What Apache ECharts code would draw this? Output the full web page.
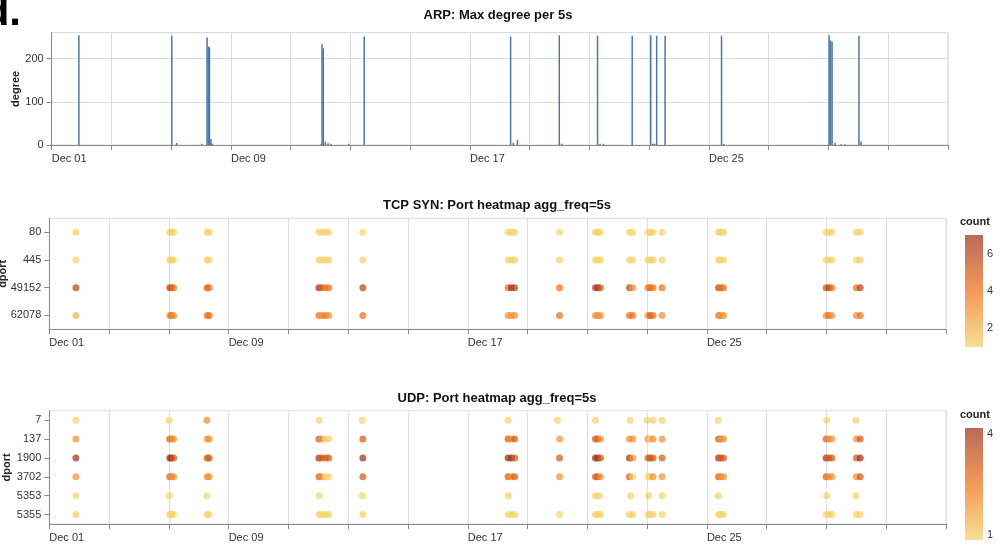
<!DOCTYPE html>
<html>
<head>
<meta charset="utf-8">
<script src="https://cdn.jsdelivr.net/npm/echarts@6.0.0/dist/echarts.min.js"></script>
<style>
html,body{margin:0;padding:0;background:#fff;}
#main{width:1000px;height:549px;}
</style>
</head>
<body>
<div id="main"></div>
<script>
// ---------- DATA ----------
// x values are days from the left edge of the time axis (one tick every 2 days)
const xTickLabels = ['Dec 01','','','Dec 09','','','','Dec 17','','','','Dec 25','','','',''];

// ARP: max degree per 5s
const arpDay    = [0.91, 4.02, 4.18, 5.02, 5.20, 5.24, 5.28, 5.33, 5.38, 9.02, 9.05, 9.09, 9.16, 9.25, 9.35, 9.94, 10.46,
                   15.36, 15.45, 15.59, 16.99, 17.07, 18.27, 18.35, 18.47, 19.43, 20.05, 20.12, 20.18, 20.25, 20.53,
                   22.42, 22.50, 26.02, 26.07, 26.12, 26.22, 26.42, 26.55, 27.02, 27.09];
const arpDegree = [254, 253, 5, 3, 249, 228, 226, 14, 3, 3, 233, 224, 8, 4, 3, 3, 251,
                   251, 5, 12, 254, 3, 253, 3, 3, 253, 254, 3, 3, 253, 253,
                   253, 3, 254, 242, 239, 5, 2, 2, 253, 8];

// TCP SYN heatmap: [day, count] per destination port
const tcpPorts = ['80', '445', '49152', '62078'];
const tcp80 = [[0.89,1],[4.03,1],[4.09,1],[4.16,1],[5.28,1],[5.35,1],[9.02,1],[9.12,1],[9.24,1],[9.35,1],[10.49,1],
  [15.35,1],[15.46,1],[15.57,1],[17.07,1],[18.27,1],[18.35,1],[18.44,1],[19.41,1],[19.52,1],[20.03,1],[20.11,1],[20.20,1],
  [20.50,1],[22.39,1],[22.47,1],[22.56,1],[25.99,1],[26.08,1],[26.18,1],[27.00,1],[27.13,1]];
const tcp445 = [[0.89,1],[4.03,1],[4.09,1],[4.16,1],[5.28,1],[5.35,1],[9.02,1],[9.12,1],[9.24,1],[9.35,1],[10.49,1],
  [15.35,1],[15.46,1],[15.57,1],[17.07,1],[18.27,1],[18.35,1],[18.44,1],[19.41,1],[19.52,1],[20.03,1],[20.11,1],[20.20,1],
  [20.50,1],[22.39,1],[22.47,1],[22.56,1],[25.99,1],[26.08,1],[26.18,1],[27.00,1],[27.13,1]];
const tcp49152 = [[0.89,6],[4.03,6],[4.09,5],[4.16,4],[5.28,5],[5.35,4],[9.02,7],[9.12,5],[9.24,4],[9.35,4],[10.49,6],
  [15.35,4],[15.46,7],[15.57,6],[17.07,4],[18.27,6],[18.35,7],[18.44,5],[19.41,6],[19.52,3],[20.03,4],[20.11,4],[20.20,4],
  [20.50,4],[22.39,6],[22.47,4],[22.56,4],[25.99,5],[26.08,6],[26.18,4],[27.00,4],[27.13,6]];
const tcp62078 = [[0.89,2],[4.03,3],[4.09,4],[4.16,3],[5.28,4],[5.35,4],[9.02,4],[9.12,3],[9.24,4],[9.35,3],[10.49,4],
  [15.35,3],[15.46,3],[15.57,3],[17.07,4],[18.27,3],[18.35,3],[18.44,3],[19.41,4],[19.52,4],[20.03,3],[20.11,5],[20.20,4],
  [20.50,3],[22.39,4],[22.47,3],[22.56,3],[25.99,3],[26.08,4],[26.18,3],[27.00,3],[27.13,4]];

// UDP heatmap
const udpPorts = ['7', '137', '1900', '3702', '5353', '5355'];
const udp7 = [[0.89,1],[4.01,1],[5.27,2],[9.03,1],[10.47,1],[15.35,1],[17.00,1],[18.27,1],[19.43,1],[20.00,1],[20.20,1],
  [20.50,1],[22.38,1],[26.01,1],[26.99,1]];
const udp137 = [[0.89,2],[4.03,3],[4.09,2],[4.16,2],[5.28,2],[5.35,2],[9.02,3],[9.12,2],[9.24,1],[9.35,1],[10.49,3],
  [15.35,3],[15.46,2],[15.57,3],[17.07,2],[18.27,3],[18.35,3],[18.44,2],[19.41,2],[19.52,2],[20.03,2],[20.11,1],[20.20,2],
  [20.50,2],[22.39,3],[22.47,2],[22.56,2],[25.99,3],[26.08,2],[26.18,2],[27.00,2],[27.13,3]];
const udp1900 = [[0.89,4],[4.03,4],[4.09,4],[4.16,3],[5.28,3],[5.35,3],[9.02,4],[9.12,3],[9.24,3],[9.35,3],[10.49,4],
  [15.35,4],[15.46,4],[15.57,3],[17.07,3],[18.27,4],[18.35,4],[18.44,3],[19.41,4],[19.52,2],[20.03,3],[20.11,3],[20.20,3],
  [20.50,3],[22.39,4],[22.47,3],[22.56,3],[25.99,4],[26.08,3],[26.18,3],[27.00,3],[27.13,4]];
const udp3702 = [[0.89,2],[4.03,3],[4.09,2],[4.16,2],[5.28,2],[5.35,2],[9.02,3],[9.12,2],[9.24,1],[9.35,1],[10.49,3],
  [15.35,3],[15.46,2],[15.57,3],[17.07,2],[18.27,3],[18.35,3],[18.44,2],[19.41,3],[19.52,1],[20.03,1],[20.11,1],[20.20,2],
  [20.50,2],[22.39,3],[22.47,2],[22.56,2],[25.99,3],[26.08,2],[26.18,2],[27.00,2],[27.13,3]];
const udp5353 = [[0.89,1],[4.01,1],[5.27,1],[9.03,1],[10.47,1],[15.35,1],[18.27,1],[18.40,1],[19.45,1],[20.05,1],
  [20.50,1],[22.38,1],[26.01,1],[26.99,1]];
const udp5355 = [[0.89,1],[4.03,1],[4.09,1],[4.16,1],[5.28,1],[5.35,1],[9.02,1],[9.12,1],[9.24,1],[9.35,1],[10.49,1],
  [15.35,1],[15.46,1],[15.57,1],[17.07,1],[18.27,1],[18.35,1],[18.44,1],[19.41,1],[19.52,1],[20.03,1],[20.11,1],[20.20,1],
  [20.50,1],[22.39,1],[22.47,1],[22.56,1],[25.99,1],[26.08,1],[26.18,1],[27.00,1],[27.13,1]];

const tcpCountRange = [1, 7];
const tcpLegendTicks = [2, 4, 6];
const udpCountRange = [1, 4];
const udpLegendTicks = [1, 4];

// ---------- BUILD ----------
const FONT = '"Liberation Sans", Arial, sans-serif';
const heatColors = ['#f4d166', '#ec6d12', '#9b2c14'];
const pointOpacity = 0.7;

function rows(ports, arrays) {
  const out = [];
  ports.forEach((p, i) => arrays[i].forEach(d => out.push([d[0], p, d[1]])));
  return out;
}
const tcpData = rows(tcpPorts, [tcp80, tcp445, tcp49152, tcp62078]);
const udpData = rows(udpPorts, [udp7, udp137, udp1900, udp3702, udp5353, udp5355]);
const arpData = arpDay.map((d, i) => [d, arpDegree[i]]);

const grids = [
  {left: 51.7, top: 32.7, width: 896.3, height: 112.3},
  {left: 49.3, top: 218.3, width: 896.7, height: 111},
  {left: 49.3, top: 410.7, width: 896.7, height: 113.3}
];

const nameStyle = {fontWeight: 'bold', fontSize: 11, color: '#222', fontFamily: FONT};

function xAxis(idx) {
  return {
    type: 'value', gridIndex: idx, min: 0, max: 30, interval: 2,
    axisLine: {show: true, onZero: false, lineStyle: {color: '#888', width: 1}},
    axisTick: {show: true, length: 5, lineStyle: {color: '#888'}},
    axisLabel: {
      formatter: v => xTickLabels[Math.round(v / 2)] || '',
      align: 'left', margin: 8, fontSize: 11, color: '#333', fontFamily: FONT,
      showMinLabel: true, showMaxLabel: true
    },
    splitLine: {show: true, lineStyle: {color: '#ddd', width: 1}}
  };
}
function catAxis(idx, data, gap) {
  return {
    type: 'category', gridIndex: idx, data: data, inverse: true,
    name: 'dport', nameLocation: 'middle', nameGap: gap, nameMoveOverlap: false,
    nameTextStyle: nameStyle,
    axisLine: {show: true, lineStyle: {color: '#888'}},
    axisTick: {show: true, alignWithLabel: true, length: 5, lineStyle: {color: '#888'}},
    axisLabel: {fontSize: 11, color: '#333', margin: 8, fontFamily: FONT, interval: 0},
    splitLine: {show: false}
  };
}

function legendGraphics(range, ticks, top, height) {
  const left = 965, width = 18;
  const els = [{
    type: 'text', left: 960, top: top - 19,
    style: {text: 'count', font: 'bold 11px ' + FONT, fill: '#222'}
  }, {
    type: 'rect', shape: {x: left, y: top, width: width, height: height},
    style: {
      opacity: pointOpacity,
      fill: {type: 'linear', x: 0, y: 0, x2: 0, y2: 1, colorStops: [
        {offset: 0, color: heatColors[2]}, {offset: 0.5, color: heatColors[1]}, {offset: 1, color: heatColors[0]}]}
    }
  }];
  ticks.forEach(v => {
    const y = top + (range[1] - v) / (range[1] - range[0]) * height;
    els.push({
      type: 'text', x: left + width + 4, y: y,
      style: {text: String(v), font: '11px ' + FONT, fill: '#333',
        verticalAlign: v === range[1] ? 'top' : (v === range[0] ? 'bottom' : 'middle')}
    });
  });
  return els;
}

const titleStyle = {fontWeight: 'bold', fontSize: 13, color: '#111', fontFamily: FONT};

const option = {
  animation: false,
  backgroundColor: '#fff',
  title: [
    {text: 'ARP: Max degree per 5s', left: 498, top: 9, textAlign: 'center', padding: 0, textStyle: titleStyle},
    {text: 'TCP SYN: Port heatmap agg_freq=5s', left: 497, top: 199, textAlign: 'center', padding: 0, textStyle: titleStyle},
    {text: 'UDP: Port heatmap agg_freq=5s', left: 497, top: 392, textAlign: 'center', padding: 0, textStyle: titleStyle}
  ],
  grid: grids.map(g => Object.assign({show: true, borderColor: '#ddd', borderWidth: 1, backgroundColor: 'transparent', outerBoundsMode: 'none', containLabel: false}, g)),
  xAxis: [xAxis(0), xAxis(1), xAxis(2)],
  yAxis: [
    {
      type: 'value', gridIndex: 0, min: 0, max: 260, interval: 100,
      name: 'degree', nameLocation: 'middle', nameGap: 30, nameMoveOverlap: false,
      nameTextStyle: nameStyle,
      axisLine: {show: true, lineStyle: {color: '#888'}},
      axisTick: {show: true, length: 5, lineStyle: {color: '#888'}},
      axisLabel: {fontSize: 11, color: '#333', margin: 8, fontFamily: FONT, showMaxLabel: false},
      splitLine: {show: true, lineStyle: {color: '#ddd'}}
    },
    catAxis(1, tcpPorts, 41),
    catAxis(2, udpPorts, 37)
  ],
  visualMap: [
    {type: 'continuous', show: false, min: tcpCountRange[0], max: tcpCountRange[1], dimension: 2, seriesIndex: 1,
     inRange: {color: heatColors}},
    {type: 'continuous', show: false, min: udpCountRange[0], max: udpCountRange[1], dimension: 2, seriesIndex: 2,
     inRange: {color: heatColors}}
  ],
  series: [
    {type: 'bar', xAxisIndex: 0, yAxisIndex: 0, data: arpData, barWidth: 1.5,
     itemStyle: {color: '#4c78a8'}, silent: true},
    {type: 'scatter', xAxisIndex: 1, yAxisIndex: 1, data: tcpData, symbol: 'circle', symbolSize: 7,
     itemStyle: {opacity: pointOpacity}, silent: true},
    {type: 'scatter', xAxisIndex: 2, yAxisIndex: 2, data: udpData, symbol: 'circle', symbolSize: 7,
     itemStyle: {opacity: pointOpacity}, silent: true}
  ],
  graphic: [
    {type: 'text', x: 21, y: 13.5, style: {text: 'd.', font: 'bold 42px ' + FONT, fill: '#000', align: 'right', verticalAlign: 'middle'}}
  ].concat(legendGraphics(tcpCountRange, tcpLegendTicks, 235, 112))
   .concat(legendGraphics(udpCountRange, udpLegendTicks, 428, 112))
};

const chart = echarts.init(document.getElementById('main'), null, {renderer: 'canvas'});
chart.setOption(option);
</script>
</body>
</html>
